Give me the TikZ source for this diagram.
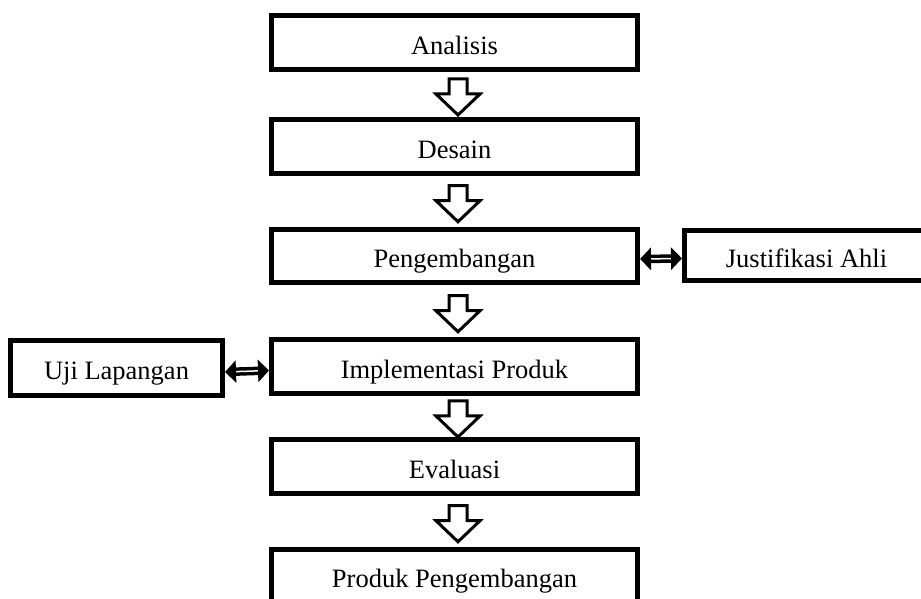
\documentclass[tikz,border=0pt]{standalone}
\usepackage{fontspec}
\setmainfont{Liberation Serif}
\usetikzlibrary{calc,arrows.meta}

\tikzset{
  stagebox/.style={draw, line width=5pt, fill=white, minimum width=366pt, minimum height=53.5pt,
    inner sep=0pt, text height=24pt, text depth=0pt, font=\fontsize{26.5}{30}\selectfont},
  sidebox/.style={stagebox, minimum width=244pt},
  blockarrowline/.style={draw, line width=3pt, fill=white, line join=miter},
  twoway/.style={line width=3.5pt, double=white, double distance=1.5pt,
    {Triangle[length=11pt,width=22pt]}-{Triangle[length=11pt,width=22pt]}}
}

% hollow down arrow between two stages
\newcommand{\blockarrow}[2]{%
  \coordinate (m) at ($(#1.south)!0.5!(#2.north)+(3.5,-2.5)$);
  \draw[blockarrowline] ($(m)+(-9,18)$) -- ++(0,-15) -- ++(-13,0) -- ($(m)+(0,-18)$)
    -- ($(m)+(22,3)$) -- ++(-13,0) -- ++(0,15) -- cycle;
}

\begin{document}
\begin{tikzpicture}[x=1pt, y=1pt]
		\clip (0,0) rectangle (921,599);

		% Main stages
		\node[stagebox] (analisis) at (454.5, 556.5) {Analisis};
		\node[stagebox] (desain) at (454.5, 452.5) {Desain};
		\node[stagebox] (pengembangan) at (454.5, 343) {Pengembangan};
		\node[stagebox] (implementasi) at (454.5, 232.5) {Implementasi Produk};
		\node[stagebox] (evaluasi) at (454.5, 132.5) {Evaluasi};
		\node[stagebox] (produk) at (454.5, 23) {Produk Pengembangan};

		% Side boxes
		\node[sidebox, minimum height=50pt] (justifikasi) at (806.5, 343.5) {Justifikasi Ahli};
		\node[sidebox, minimum width=212pt, minimum height=55pt] (uji) at (116.5, 231) {Uji Lapangan};

		% Arrows between stages
		\blockarrow{analisis}{desain}
		\blockarrow{desain}{pengembangan}
		\blockarrow{pengembangan}{implementasi}
		\blockarrow{implementasi}{evaluasi}
		\blockarrow{evaluasi}{produk}

		% Two-way links
		\draw[twoway] ([yshift=-3]pengembangan.east) -- ([yshift=-3]justifikasi.west);
		\draw[twoway] ([yshift=-4]uji.east) -- ([yshift=-4]implementasi.west);
\end{tikzpicture}
\end{document}
